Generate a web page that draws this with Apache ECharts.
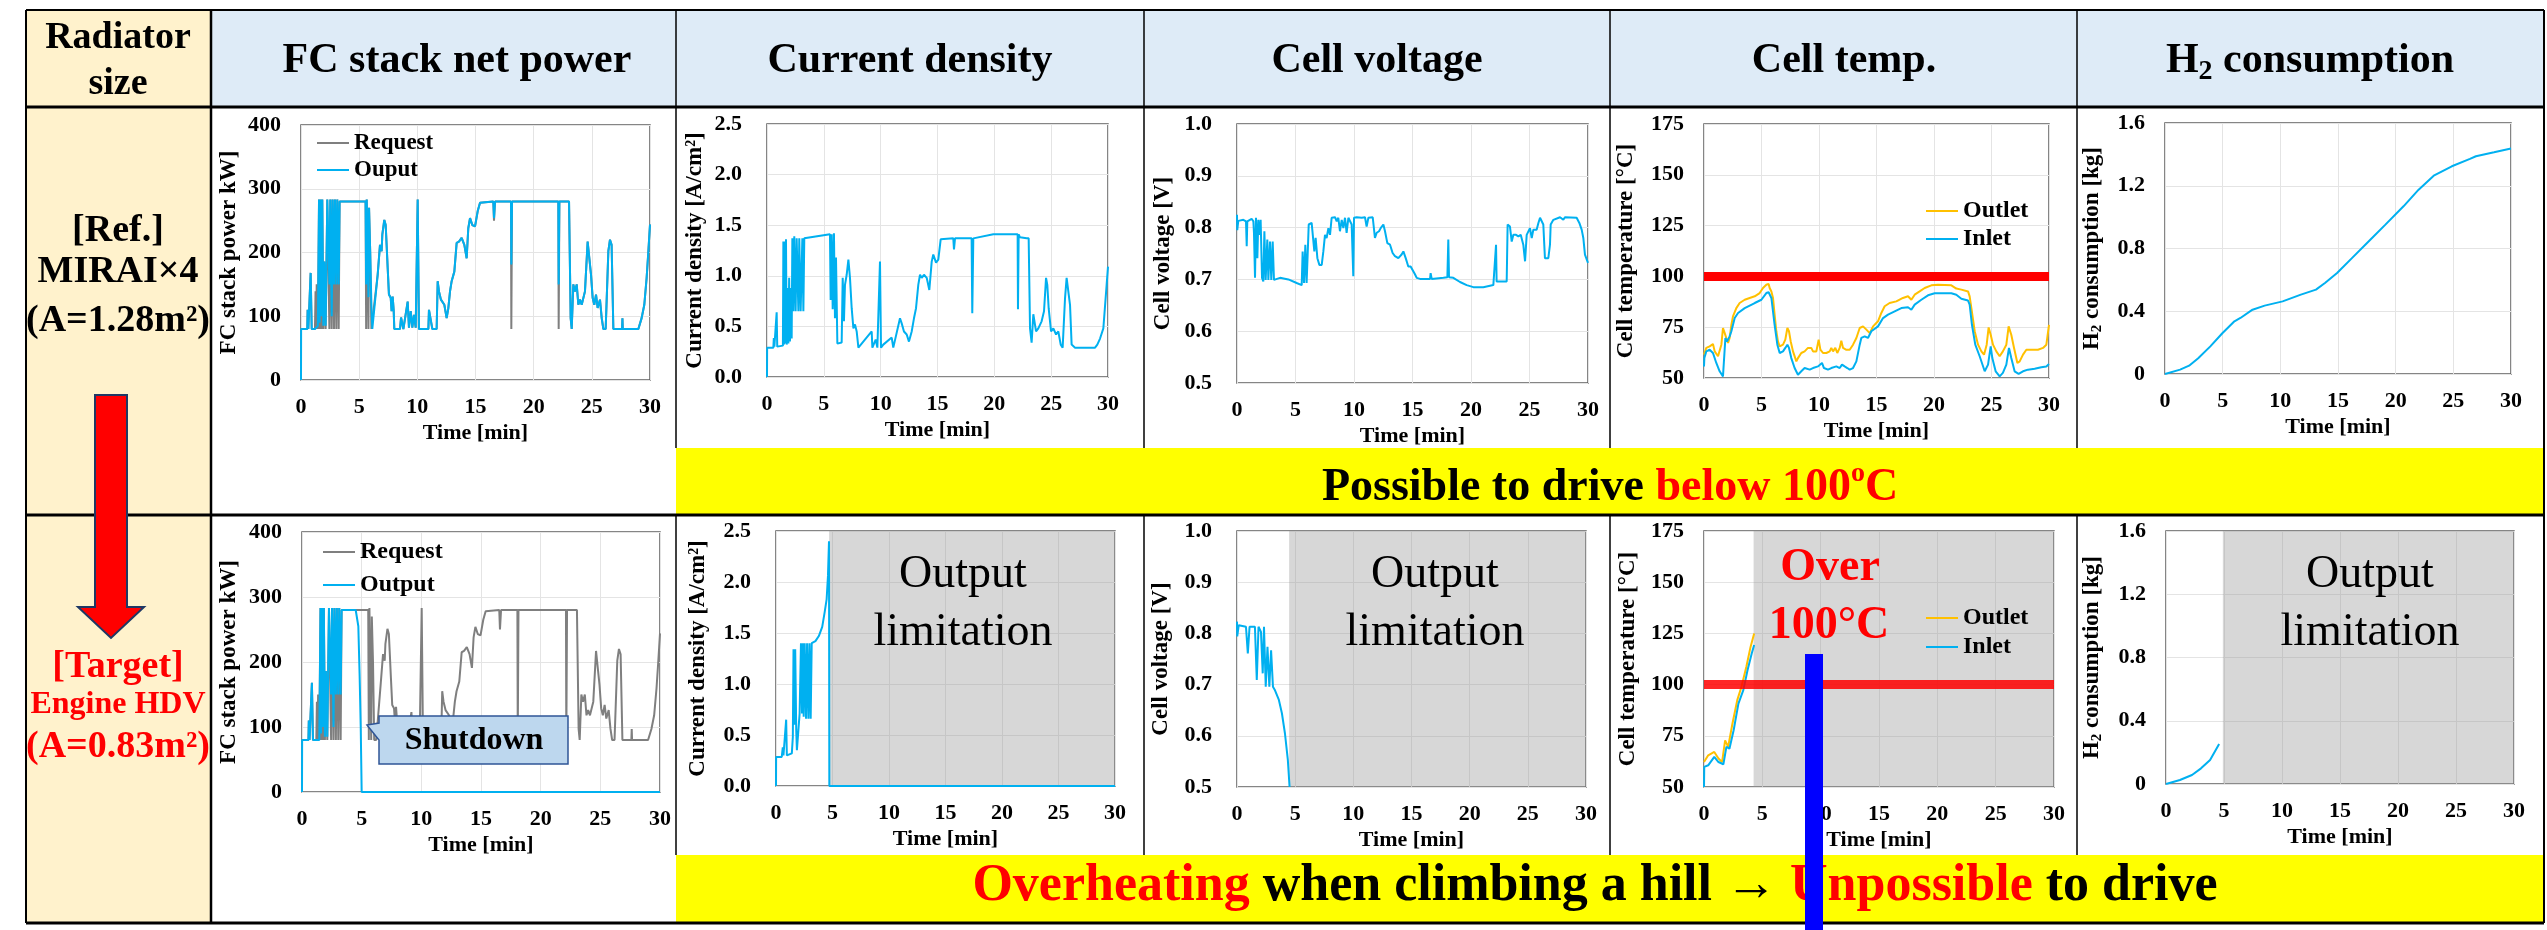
<!DOCTYPE html>
<html>
<head>
<meta charset="utf-8">
<script src="https://cdn.jsdelivr.net/npm/echarts@6.0.0/dist/echarts.min.js"></script>
<style>
html,body{margin:0;padding:0;background:#fff;}
#chart{width:2547px;height:930px;}
</style>
</head>
<body>
<div id="chart"></div>
<script>
// ---------- axis ranges: [min, max, interval] ----------
const timeAxis = [0, 30, 5];
const powerAxis = [0, 400, 100];
const currentAxis = [0, 2.5, 0.5];
const voltageAxis = [0.5, 1.0, 0.1];
const tempAxis = [50, 175, 25];
const h2Axis = [0, 1.6, 0.4];

// ---------- drive cycle: stack power request [min, kW] (same cycle for both radiators) ----------
const powerRequest = [[0,80],[0.54,80],[0.57,110],[0.63,80],[0.77,80],[0.83,168],[0.92,80],[1.2,80],[1.25,139],[1.3,80],[1.35,150],[1.45,80],[1.55,283],[1.6,80],[1.68,283],[1.75,80],[1.83,283],[1.92,80],[2.0,186],[2.12,80],[2.26,283],[2.35,283],[2.44,80],[2.52,283],[2.64,80],[2.72,283],[2.84,80],[2.92,283],[3.04,80],[3.12,283],[3.24,80],[3.32,280],[5.55,280],[5.6,80],[5.65,283],[5.75,283],[5.8,80],[5.85,270],[5.95,200],[6.05,80],[6.13,80],[6.22,80],[6.59,165],[6.79,212],[6.93,202],[6.99,228],[7.16,251],[7.28,243],[7.36,212],[7.45,176],[7.56,134],[7.71,129],[7.79,108],[7.88,131],[7.97,108],[8.02,80],[8.51,80],[8.6,98],[8.8,80],[9.17,123],[9.28,82],[9.43,108],[9.57,82],[9.71,102],[9.86,82],[10.03,283],[10.14,80],[10.95,80],[11.0,110],[11.17,108],[11.29,80],[11.66,80],[11.75,155],[11.86,139],[12.03,126],[12.18,123],[12.32,118],[12.52,97],[12.66,112],[12.81,139],[12.95,155],[13.18,170],[13.38,215],[13.58,217],[13.81,223],[14.04,212],[14.24,191],[14.38,238],[14.53,254],[14.73,243],[14.96,241],[15.19,265],[15.39,278],[15.53,280],[16.53,280],[16.59,250],[16.68,280],[18.05,280],[18.08,80],[18.14,280],[22.12,280],[22.15,80],[22.21,280],[23.04,280],[23.18,97],[23.27,80],[23.41,150],[23.55,139],[23.7,150],[23.84,118],[23.98,126],[24.13,118],[24.41,139],[24.64,217],[24.76,220],[24.93,165],[25.07,129],[25.21,118],[25.36,134],[25.5,113],[25.7,126],[25.85,97],[25.99,80],[26.19,80],[26.42,202],[26.56,220],[26.7,212],[26.85,80],[27.6,80],[27.63,97],[27.66,80],[29.0,80],[29.28,97],[29.51,118],[29.71,160],[29.86,202],[30,244]];

// ---------- reference radiator (MIRAI x4) ----------
const powerOutputRef = [[0,0],[0.01,80],[0.54,80],[0.57,110],[0.63,80],[0.77,80],[0.83,168],[0.92,80],[1.2,80],[1.45,85],[1.55,283],[1.6,90],[1.68,283],[1.75,100],[1.83,283],[1.92,85],[2.0,186],[2.12,85],[2.26,283],[2.35,283],[2.44,150],[2.52,283],[2.64,100],[2.72,283],[2.84,150],[2.92,283],[3.04,150],[3.12,283],[3.24,150],[3.32,280],[5.55,280],[5.6,150],[5.65,283],[5.75,283],[5.8,130],[5.85,270],[5.95,200],[6.05,120],[6.13,80],[6.22,80],[6.59,165],[6.79,212],[6.93,202],[6.99,228],[7.16,251],[7.28,243],[7.36,212],[7.45,176],[7.56,134],[7.71,129],[7.79,108],[7.88,131],[7.97,108],[8.02,80],[8.51,80],[8.6,98],[8.8,80],[9.17,123],[9.28,82],[9.43,108],[9.57,82],[9.71,102],[9.86,82],[10.03,283],[10.14,80],[10.95,80],[11.0,110],[11.17,108],[11.29,80],[11.66,80],[11.75,155],[11.86,139],[12.03,126],[12.18,123],[12.32,118],[12.52,97],[12.66,112],[12.81,139],[12.95,155],[13.18,170],[13.38,215],[13.58,217],[13.81,223],[14.04,212],[14.24,191],[14.38,238],[14.53,254],[14.73,243],[14.96,241],[15.19,265],[15.39,278],[15.53,280],[16.53,280],[16.59,254],[16.68,280],[18.05,280],[18.08,181],[18.14,280],[22.12,280],[22.15,150],[22.21,280],[23.04,280],[23.18,97],[23.27,80],[23.41,150],[23.55,139],[23.7,150],[23.84,118],[23.98,126],[24.13,118],[24.41,139],[24.64,217],[24.76,220],[24.93,165],[25.07,129],[25.21,118],[25.36,134],[25.5,113],[25.7,126],[25.85,97],[25.99,80],[26.19,80],[26.42,202],[26.56,220],[26.7,212],[26.85,80],[27.6,80],[27.63,97],[27.66,80],[29.0,80],[29.28,97],[29.51,118],[29.71,160],[29.86,202],[30,244]];

const currentRef = [[0,0],[0.01,0.29],[0.56,0.29],[0.6,0.385],[0.65,0.3],[0.8,0.3],[0.85,0.64],[0.9,0.3],[1.4,0.31],[1.44,1.34],[1.5,0.32],[1.58,1.34],[1.62,0.33],[1.67,1.36],[1.73,0.32],[1.8,0.88],[1.88,0.33],[1.95,0.98],[2.02,0.35],[2.1,0.88],[2.17,0.38],[2.23,1.37],[2.32,0.65],[2.4,1.39],[2.52,0.65],[2.61,1.37],[2.76,0.65],[2.84,1.37],[2.96,0.65],[3.11,1.37],[3.2,0.65],[3.28,1.37],[3.34,1.37],[5.54,1.41],[5.6,0.76],[5.69,1.41],[5.78,0.67],[5.89,1.42],[5.98,0.58],[6.07,1.18],[6.19,0.33],[6.57,0.34],[6.66,0.98],[6.77,0.55],[6.86,0.91],[7.01,1.01],[7.16,1.16],[7.3,0.98],[7.45,0.68],[7.6,0.48],[7.74,0.52],[7.89,0.45],[8.04,0.29],[9.21,0.45],[9.27,0.29],[9.56,0.37],[9.71,0.29],[9.94,1.14],[10.03,0.29],[10.23,0.32],[10.97,0.39],[11.11,0.29],[11.7,0.58],[11.85,0.53],[12.05,0.45],[12.29,0.42],[12.49,0.35],[12.73,0.45],[12.93,0.58],[13.11,0.68],[13.31,0.91],[13.46,1.01],[13.61,0.98],[13.81,1.01],[14.05,0.98],[14.28,0.86],[14.49,1.14],[14.63,1.21],[14.87,1.13],[15.07,1.16],[15.28,1.36],[15.37,1.37],[16.39,1.37],[16.45,1.26],[16.54,1.37],[18.0,1.37],[18.06,0.63],[18.15,1.37],[19.91,1.41],[22.05,1.41],[22.08,0.67],[22.14,1.41],[22.26,1.38],[22.84,1.37],[23.02,1.37],[23.14,0.48],[23.28,0.34],[23.43,0.62],[23.58,0.62],[23.67,0.45],[23.87,0.48],[24.16,0.55],[24.37,0.65],[24.55,0.98],[24.66,0.91],[24.78,0.68],[24.99,0.45],[25.19,0.48],[25.43,0.42],[25.63,0.45],[25.84,0.32],[26.01,0.29],[26.22,0.78],[26.36,0.98],[26.51,0.98],[26.66,0.71],[26.8,0.32],[27.1,0.29],[28.86,0.29],[29.06,0.32],[29.3,0.38],[29.59,0.48],[29.88,0.91],[30,1.09]];

const voltageRef = [[0,0.825],[0.02,0.795],[0.11,0.813],[0.54,0.815],[0.77,0.812],[0.83,0.764],[0.88,0.812],[1.25,0.817],[1.4,0.812],[1.45,0.79],[1.54,0.703],[1.62,0.819],[1.74,0.741],[1.82,0.815],[1.91,0.786],[2.02,0.815],[2.14,0.703],[2.25,0.696],[2.34,0.793],[2.45,0.699],[2.59,0.777],[2.68,0.699],[2.82,0.773],[2.93,0.699],[3.05,0.773],[3.16,0.699],[3.25,0.701],[3.68,0.703],[4.39,0.7],[5.1,0.693],[5.53,0.689],[5.61,0.754],[5.73,0.693],[5.84,0.767],[5.95,0.693],[6.04,0.748],[6.13,0.806],[6.38,0.809],[6.52,0.811],[6.61,0.754],[6.72,0.78],[6.87,0.741],[7.04,0.728],[7.24,0.728],[7.38,0.754],[7.52,0.786],[7.66,0.78],[7.81,0.799],[7.95,0.786],[8.09,0.819],[8.38,0.82],[8.52,0.812],[8.66,0.819],[8.8,0.793],[8.95,0.815],[9.09,0.799],[9.23,0.819],[9.37,0.79],[9.52,0.819],[9.8,0.806],[9.94,0.706],[10.0,0.819],[10.23,0.82],[10.66,0.819],[10.94,0.82],[11.08,0.802],[11.23,0.819],[11.6,0.82],[11.65,0.819],[11.79,0.78],[11.94,0.79],[12.14,0.793],[12.28,0.799],[12.51,0.806],[12.65,0.793],[12.85,0.77],[13.08,0.767],[13.3,0.751],[13.5,0.745],[13.79,0.741],[14.07,0.748],[14.22,0.754],[14.42,0.741],[14.64,0.725],[14.84,0.725],[15.01,0.723],[15.21,0.71],[15.36,0.703],[15.64,0.701],[16.5,0.701],[16.55,0.712],[16.64,0.701],[17.64,0.703],[17.98,0.704],[18.06,0.777],[18.12,0.704],[18.49,0.703],[19.06,0.695],[19.63,0.689],[20.2,0.685],[21.05,0.685],[21.91,0.689],[22.08,0.69],[22.14,0.767],[22.19,0.696],[22.62,0.696],[23.05,0.696],[23.13,0.806],[23.33,0.802],[23.48,0.773],[23.62,0.786],[23.85,0.786],[24.05,0.783],[24.25,0.786],[24.47,0.767],[24.62,0.735],[24.76,0.786],[25.04,0.799],[25.19,0.78],[25.33,0.796],[25.61,0.796],[25.76,0.809],[25.9,0.819],[26.04,0.819],[26.18,0.806],[26.32,0.741],[26.61,0.741],[26.75,0.767],[26.81,0.806],[27.04,0.815],[27.61,0.82],[27.89,0.815],[28.03,0.82],[29.03,0.819],[29.26,0.809],[29.46,0.796],[29.6,0.78],[29.74,0.748],[30,0.732]];

const outletRef = [[0,61.5],[0.2,64.8],[0.49,65.6],[0.78,66.7],[0.93,63.1],[1.07,63.1],[1.22,60.7],[1.36,61.5],[1.51,66.4],[1.65,74.6],[1.8,72.1],[1.94,69.7],[2.09,67.2],[2.23,69.7],[2.38,76.2],[2.52,80.3],[2.81,84.4],[3.1,86.9],[3.54,88.5],[3.97,89.4],[4.41,90.2],[4.84,91.8],[5.13,94.3],[5.42,95.9],[5.62,96.3],[5.71,94.3],[5.86,92.6],[6.0,89.4],[6.14,81.2],[6.29,73.0],[6.43,68.0],[6.58,65.6],[6.87,66.4],[7.07,68.9],[7.25,74.6],[7.39,73.0],[7.54,68.0],[7.74,63.1],[8.03,58.2],[8.17,59.8],[8.46,62.3],[8.75,63.1],[9.04,64.8],[9.33,64.8],[9.48,63.1],[9.77,63.1],[9.97,68.9],[10.12,64.0],[10.35,62.3],[10.64,62.3],[10.93,63.1],[11.07,64.8],[11.22,63.1],[11.42,64.8],[11.59,62.3],[11.8,64.8],[11.94,68.4],[12.09,64.8],[12.38,63.9],[12.67,63.9],[12.96,66.4],[13.25,69.7],[13.54,74.6],[13.83,75.4],[14.12,73.8],[14.41,72.1],[14.7,75.4],[15.13,77.9],[15.42,82.0],[15.71,85.3],[16.14,86.9],[16.72,87.7],[17.3,89.4],[17.74,90.2],[18.03,88.5],[18.32,91.0],[18.75,92.6],[19.19,94.3],[19.77,95.6],[20.35,95.9],[21.51,95.6],[21.94,94.0],[22.38,93.5],[22.96,92.6],[23.1,90.2],[23.25,84.4],[23.54,73.0],[23.83,66.4],[24.12,63.1],[24.35,61.5],[24.58,66.4],[24.75,74.9],[24.93,71.3],[25.13,66.4],[25.42,63.1],[25.71,60.7],[25.99,63.1],[26.29,66.4],[26.49,75.4],[26.72,71.3],[26.96,64.8],[27.25,57.4],[27.45,58.2],[27.74,61.5],[28.03,63.9],[28.46,63.9],[29.04,63.9],[29.48,64.8],[29.77,66.4],[30,76.2]];

const inletRef = [[0,55.7],[0.03,59.8],[0.2,63.1],[0.49,63.9],[0.78,62.3],[1.07,57.4],[1.36,53.3],[1.65,50.8],[1.74,50.5],[1.86,69.7],[2.0,68.0],[2.23,70.5],[2.38,73.0],[2.67,79.5],[2.96,82.0],[3.54,84.4],[4.41,86.9],[4.99,88.5],[5.42,91.8],[5.62,92.2],[5.86,89.4],[6.14,76.2],[6.38,66.4],[6.58,62.3],[6.87,63.1],[7.07,64.8],[7.25,66.4],[7.39,64.8],[7.59,59.8],[7.88,54.9],[8.17,51.6],[8.46,53.3],[8.75,54.9],[9.19,54.1],[9.48,54.9],[9.91,55.7],[10.26,57.4],[10.43,54.9],[10.78,54.1],[11.07,54.9],[11.51,55.7],[11.8,54.9],[12.0,56.6],[12.23,55.7],[12.46,54.9],[12.67,54.1],[12.96,54.9],[13.25,58.2],[13.54,66.4],[13.68,69.7],[13.97,70.5],[14.26,69.7],[14.55,73.0],[15.13,75.4],[15.57,79.5],[16.0,81.2],[16.58,82.8],[17.16,84.4],[17.74,84.8],[18.03,83.6],[18.32,86.1],[18.9,88.5],[19.48,90.7],[20.06,91.7],[21.51,91.7],[21.94,91.0],[22.38,89.0],[22.96,88.1],[23.1,86.1],[23.3,76.2],[23.59,66.4],[23.97,60.7],[24.41,53.3],[24.7,56.6],[24.93,65.6],[25.07,59.8],[25.36,53.3],[25.71,50.8],[25.99,52.5],[26.29,56.6],[26.52,64.8],[26.72,59.8],[27.01,53.3],[27.36,52.0],[27.74,53.3],[28.17,54.1],[28.75,54.6],[29.33,55.3],[29.77,55.7],[30,56.9]];

const h2Ref = [[0,0],[1.31,0.028],[2.09,0.053],[2.88,0.1],[3.93,0.176],[4.97,0.26],[6.02,0.336],[6.54,0.357],[7.59,0.41],[8.64,0.436],[10.2,0.463],[11.78,0.506],[13.09,0.538],[13.87,0.58],[14.92,0.644],[16.23,0.74],[17.8,0.856],[19.11,0.952],[20.68,1.069],[21.99,1.175],[23.3,1.264],[24.87,1.324],[26.44,1.371],[26.96,1.388],[28.53,1.413],[30,1.437]];

// ---------- target radiator (engine HDV size) ----------
const powerOutputTarget = [[0,0],[0.01,80],[0.54,80],[0.57,110],[0.63,80],[0.77,80],[0.83,168],[0.92,80],[1.2,80],[1.45,80],[1.55,283],[1.6,90],[1.68,283],[1.75,100],[1.83,283],[1.92,85],[2.0,186],[2.12,85],[2.26,283],[2.35,283],[2.44,150],[2.52,283],[2.64,100],[2.72,283],[2.84,150],[2.92,283],[3.04,150],[3.12,283],[3.24,150],[3.32,280],[4.5,280],[4.62,278],[4.72,255],[4.83,178],[4.92,101],[5.0,0],[30,0]];
const currentTarget = [[0,0],[0.01,0.285],[0.51,0.285],[0.6,0.38],[0.66,0.3],[0.81,0.3],[0.9,0.65],[0.96,0.3],[1.4,0.32],[1.49,0.48],[1.55,1.34],[1.61,0.6],[1.7,1.34],[1.79,0.55],[1.85,0.35],[2.0,0.34],[2.09,0.71],[2.21,1.4],[2.3,0.71],[2.39,1.4],[2.45,0.68],[2.54,1.4],[2.66,0.66],[2.75,1.4],[2.87,0.66],[2.96,1.4],[3.07,0.66],[3.16,1.4],[3.25,1.4],[3.49,1.42],[3.79,1.47],[4.09,1.56],[4.3,1.7],[4.48,1.83],[4.6,2.06],[4.69,2.4],[4.72,0],[30,0]];
const voltageTarget = [[0,0.823],[0.02,0.794],[0.15,0.816],[0.77,0.813],[0.93,0.761],[1.08,0.813],[1.54,0.813],[1.7,0.709],[1.85,0.813],[2.06,0.803],[2.21,0.722],[2.32,0.813],[2.47,0.696],[2.62,0.774],[2.78,0.696],[2.93,0.767],[3.09,0.696],[3.24,0.69],[3.6,0.67],[3.86,0.644],[4.12,0.605],[4.37,0.553],[4.52,0.5]];
const outletTarget = [[0,62.2],[0.36,65.5],[0.88,67.1],[1.24,63.9],[1.55,62.2],[1.81,72.8],[2.07,69.6],[2.44,81.0],[2.85,92.4],[3.21,98.9],[3.63,108.7],[3.99,118.4],[4.3,125.0]];
const inletTarget = [[0,50],[0.02,59.8],[0.36,60.6],[0.88,64.7],[1.24,62.2],[1.66,61.1],[1.92,69.6],[2.18,68.7],[2.54,77.7],[2.95,90.7],[3.37,97.3],[3.73,107.0],[4.09,115.2],[4.3,119.3]];
const h2Target = [[0,0],[1.2,0.025],[2.24,0.057],[3.02,0.099],[3.8,0.152],[4.58,0.253]];

// time [min] from which the stack output is limited (current, voltage, temp, H2)
const limitFrom = [4.7, 4.48, 4.25, 4.9];
// temperature limit [°C]
const tempLimit = [100];

// ---------- styling ----------
const FONT = 'Liberation Serif';
const BLUE = '#00B0F0', GRAY = '#7F7F7F', ORANGE = '#FFC000', RED = '#FF0000';
const SHADE = 'rgba(150,150,150,0.38)';

const h2Name = '{n|H}{s|2}{n| consumption [kg]}';
const nameRich = {
  n: {fontFamily: FONT, fontWeight: 'bold', fontSize: 23, color: '#000', lineHeight: 26},
  s: {fontFamily: FONT, fontWeight: 'bold', fontSize: 15, color: '#000', lineHeight: 15, verticalAlign: 'bottom'}
};

// plot boxes [left, top, width, height] and y axis setup
const panels = [
  {box: [301, 125, 349, 255], y: powerAxis,   name: 'FC stack power kW]',      gap: 60, lm: 20},
  {box: [767, 124, 341, 253], y: currentAxis, name: 'Current density [A/cm²]', gap: 60, lm: 25, dec: 1},
  {box: [1237, 124, 351, 259], y: voltageAxis, name: 'Cell voltage [V]',        gap: 62, lm: 25, dec: 1},
  {box: [1704, 124, 345, 254], y: tempAxis,    name: 'Cell temperature [°C]',   gap: 66, lm: 20},
  {box: [2165, 123, 346, 251], y: h2Axis,      name: h2Name,                    gap: 60, lm: 20},
  {box: [302, 532, 358, 260], y: powerAxis,   name: 'FC stack power kW]',      gap: 61, lm: 20},
  {box: [776, 531, 339, 255], y: currentAxis, name: 'Current density [A/cm²]', gap: 66, lm: 25, dec: 1},
  {box: [1237, 531, 349, 256], y: voltageAxis, name: 'Cell voltage [V]',        gap: 64, lm: 25, dec: 1},
  {box: [1704, 531, 350, 256], y: tempAxis,    name: 'Cell temperature [°C]',   gap: 64, lm: 20},
  {box: [2166, 531, 348, 253], y: h2Axis,      name: h2Name,                    gap: 61, lm: 20}
];

const tickFont = {fontFamily: FONT, fontWeight: 'bold', fontSize: 22, color: '#000'};
const splitStyle = {show: true, lineStyle: {color: '#E4E4E4', width: 1}};

const grids = panels.map(p => ({
  left: p.box[0], top: p.box[1], width: p.box[2], height: p.box[3],
  show: true, borderColor: '#5E5E5E', borderWidth: 1.5, backgroundColor: 'transparent',
  containLabel: false, outerBoundsMode: 'none'
}));

const xAxes = panels.map((p, i) => ({
  type: 'value', gridIndex: i, min: timeAxis[0], max: timeAxis[1], interval: timeAxis[2],
  axisLine: {show: false}, axisTick: {show: false}, splitLine: splitStyle,
  axisLabel: Object.assign({margin: 16, showMinLabel: true, showMaxLabel: true}, tickFont),
  name: 'Time [min]', nameLocation: 'middle', nameGap: 42,
  nameTextStyle: {fontFamily: FONT, fontWeight: 'bold', fontSize: 22, color: '#000'}
}));

const yAxes = panels.map((p, i) => ({
  type: 'value', gridIndex: i, min: p.y[0], max: p.y[1], interval: p.y[2],
  axisLine: {show: false}, axisTick: {show: false}, splitLine: splitStyle,
  axisLabel: Object.assign({
    margin: p.lm, showMinLabel: true, showMaxLabel: true,
    formatter: p.dec ? (v => v.toFixed(p.dec)) : (v => String(Math.round(v * 10) / 10))
  }, tickFont),
  name: p.name, nameLocation: 'middle', nameGap: p.gap, nameRotate: 90,
  nameTextStyle: {fontFamily: FONT, fontWeight: 'bold', fontSize: 23, color: '#000', rich: nameRich}
}));

function line(i, name, data, color, extra) {
  return Object.assign({
    type: 'line', name: name, data: data, xAxisIndex: i, yAxisIndex: i,
    symbol: 'none', showSymbol: false, animation: false, silent: true,
    lineStyle: {color: color, width: 2}, itemStyle: {color: color}
  }, extra || {});
}
function shade(t) {
  return {silent: true, label: {show: false}, itemStyle: {color: SHADE, opacity: 1},
    data: [[{xAxis: t}, {xAxis: timeAxis[1]}]]};
}
function limitLine(opacity) {
  return {silent: true, symbol: ['none', 'none'], label: {show: false},
    lineStyle: {color: RED, width: 9, type: 'solid', opacity: opacity},
    data: tempLimit.map(v => ({yAxis: v}))};
}

const series = [
  line(0, 'Request', powerRequest, GRAY),
  line(0, 'Ouput', powerOutputRef, BLUE),
  line(1, 'Current density', currentRef, BLUE),
  line(2, 'Cell voltage', voltageRef, BLUE),
  line(3, 'Outlet', outletRef, ORANGE, {markLine: limitLine(1)}),
  line(3, 'Inlet', inletRef, BLUE),
  line(4, 'H2 consumption', h2Ref, BLUE),
  line(5, 'Request', powerRequest, GRAY),
  line(5, 'Output', powerOutputTarget, BLUE),
  line(6, 'Current density', currentTarget, BLUE, {markArea: shade(limitFrom[0])}),
  line(7, 'Cell voltage', voltageTarget, BLUE, {markArea: shade(limitFrom[1])}),
  line(8, 'Outlet', outletTarget, ORANGE, {markArea: shade(limitFrom[2]), markLine: limitLine(0.85)}),
  line(8, 'Inlet', inletTarget, BLUE),
  line(9, 'H2 consumption', h2Target, BLUE, {markArea: shade(limitFrom[3])})
];

function legendAt(names, left, top, gap, size) {
  return {
    data: names.map(n => ({name: n, icon: 'rect'})), left: left, top: top, orient: 'vertical',
    itemWidth: 32, itemHeight: 2, itemGap: gap, selectedMode: false, padding: 0,
    textStyle: {fontFamily: FONT, fontWeight: 'bold', fontSize: size, color: '#000', lineHeight: 24}
  };
}
const legends = [
  legendAt(['Request', 'Ouput'], 317, 131, 3, 23),
  legendAt(['Request', 'Output'], 323, 540, 9, 24),
  legendAt(['Outlet', 'Inlet'], 1926, 199, 4, 24),
  legendAt(['Outlet', 'Inlet'], 1926, 606, 5, 24)
];

// ---------- table frame, labels and annotations ----------
const black = '#000';
function rect(x, y, w, h, fill, z) {
  return {type: 'rect', shape: {x: x, y: y, width: w, height: h}, style: {fill: fill}, z: z || -5, silent: true};
}
function hLine(x1, x2, y, w) {
  return {type: 'line', shape: {x1: x1, y1: y, x2: x2, y2: y}, style: {stroke: black, lineWidth: w}, z: 5, silent: true};
}
function vLine(x, y1, y2, w) {
  return {type: 'line', shape: {x1: x, y1: y1, x2: x, y2: y2}, style: {stroke: black, lineWidth: w}, z: 5, silent: true};
}
function label(text, x, y, size, color, weight, z) {
  return {type: 'text', z: z || 10, silent: true,
    style: {text: text, x: x, y: y, fill: color, font: (weight || 'bold') + ' ' + size + 'px "' + FONT + '"',
      align: 'center', verticalAlign: 'middle', textAlign: 'center', textVerticalAlign: 'middle'}};
}
function richLabel(text, x, y, rich, z) {
  return {type: 'text', z: z || 10, silent: true,
    style: {text: text, x: x, y: y, rich: rich, align: 'center', verticalAlign: 'middle', textAlign: 'center', textVerticalAlign: 'middle'}};
}
function tok(size, color, extra) {
  return Object.assign({fontFamily: FONT, fontWeight: 'bold', fontSize: size, fill: color, lineHeight: Math.round(size * 1.2)}, extra || {});
}

const colX = [26, 211, 676, 1144, 1610, 2077, 2544];
const graphics = [
  rect(26, 10, 185, 913, '#FFF2CC'),
  rect(211, 10, 2333, 97, '#DEEBF7'),
  rect(676, 448, 1868, 66, '#FFFF00'),
  rect(676, 855, 1868, 68, '#FFFF00'),
  hLine(26, 2544, 10, 2),
  hLine(26, 2544, 107, 3),
  hLine(26, 2544, 515, 3),
  hLine(26, 2544, 923, 3),
  vLine(26, 10, 923, 2),
  vLine(211, 10, 923, 2.5),
  vLine(2544, 10, 923, 2)
];
[2, 3, 4, 5].forEach(k => {
  graphics.push(vLine(colX[k], 10, 448, 1.5));
  graphics.push(vLine(colX[k], 515, 855, 1.5));
});

// header row
graphics.push(label('Radiator', 118, 38, 38, black));
graphics.push(label('size', 118, 84, 38, black));
graphics.push(label('FC stack net power', 457, 61, 42, black));
graphics.push(label('Current density', 910, 61, 42, black));
graphics.push(label('Cell voltage', 1377, 61, 42, black));
graphics.push(label('Cell temp.', 1844, 61, 42, black));
graphics.push(richLabel('{a|H}{b|2}{a| consumption}', 2310, 61, {
  a: tok(42, black, {lineHeight: 50}),
  b: tok(28, black, {lineHeight: 28, verticalAlign: 'bottom'})
}));

// first column
graphics.push(label('[Ref.]', 118, 231, 38, black));
graphics.push(label('MIRAI×4', 118, 272, 38, black));
graphics.push(label('(A=1.28m²)', 118, 321, 38, black));
graphics.push(label('[Target]', 118, 667, 38, RED));
graphics.push(label('Engine HDV', 118, 705, 32, RED));
graphics.push(label('(A=0.83m²)', 118, 747, 38, RED));
graphics.push({type: 'polygon', z: 12, silent: true,
  shape: {points: [[95, 395], [127, 395], [127, 607], [144, 607], [111, 638], [78, 607], [95, 607]]},
  style: {fill: RED, stroke: '#1F3864', lineWidth: 2}});

// yellow summary bands
graphics.push(richLabel('{k|Possible to drive }{r|below 100}{s|o}{r|C}', 1610, 488, {
  k: tok(46, black, {lineHeight: 56}),
  r: tok(46, RED, {lineHeight: 56}),
  s: tok(28, RED, {lineHeight: 30, verticalAlign: 'top'})
}, 20));
graphics.push(richLabel('{r|Overheating}{k| when climbing a hill → }{r|Unpossible}{k| to drive}', 1595, 887, {
  k: tok(52, black, {lineHeight: 62}),
  r: tok(52, RED, {lineHeight: 62})
}, 20));

// annotations on the target row
['Output', 'limitation'].forEach((w, j) => {
  const y = j === 0 ? 575 : 633;
  graphics.push(label(w, 963, y, 46, black, 'normal', 30));
  graphics.push(label(w, 1435, y, 46, black, 'normal', 30));
  graphics.push(label(w, 2370, y, 46, black, 'normal', 30));
});
graphics.push(label('Over', 1830, 568, 46, RED, 'bold', 30));
graphics.push(label('100°C', 1829, 626, 46, RED, 'bold', 30));

graphics.push({type: 'polygon', z: 30, silent: true,
  shape: {points: [[379, 716], [568, 716], [568, 764], [379, 764], [379, 740], [367, 725], [379, 723]]},
  style: {fill: '#BDD7EE', stroke: '#2F5597', lineWidth: 1.5}});
graphics.push(label('Shutdown', 474, 741, 32, black, 'bold', 31));

// vertical marker
graphics.push(rect(1805, 654, 18, 276, '#0000FF', 60));

const chart = echarts.init(document.getElementById('chart'), null, {renderer: 'canvas'});
chart.setOption({
  backgroundColor: '#FFFFFF',
  animation: false,
  textStyle: {fontFamily: FONT},
  grid: grids,
  xAxis: xAxes,
  yAxis: yAxes,
  legend: legends,
  series: series,
  graphic: {elements: graphics}
});
</script>
</body>
</html>
